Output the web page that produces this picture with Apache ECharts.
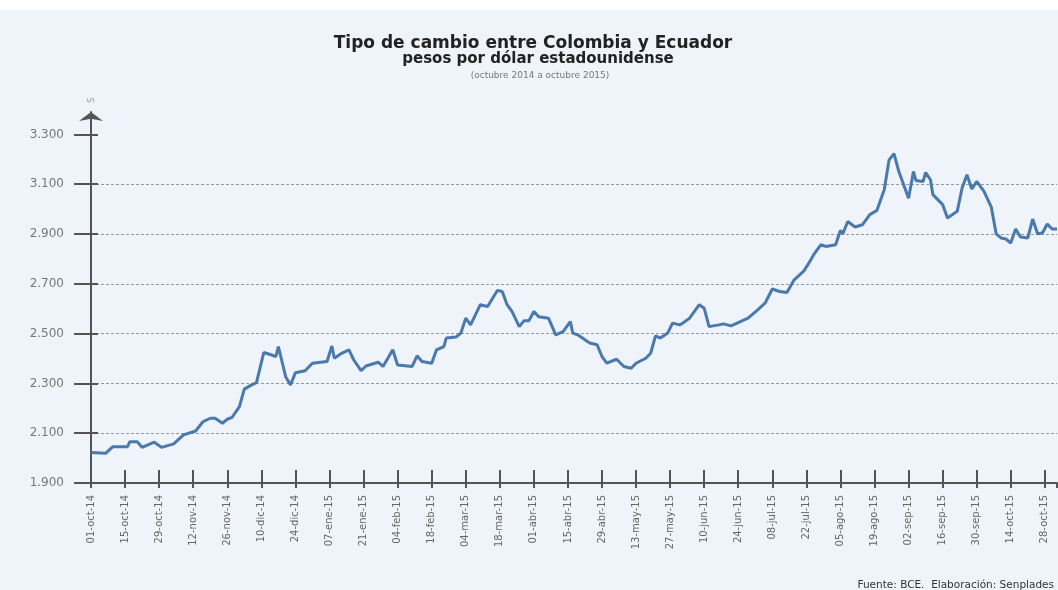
<!DOCTYPE html>
<html>
<head>
<meta charset="utf-8">
<script src="https://cdn.jsdelivr.net/npm/echarts@6/dist/echarts.min.js"></script>
<style>
  html, body { margin: 0; padding: 0; background: #fff; }
  #chart { width: 1058px; height: 590px; }
</style>
</head>
<body>
<div id="chart"></div>
<script>
// dias desde el 01-oct-14 y tipo de cambio (pesos por dólar)
const dias = [
  0, 6, 9, 15, 16, 19, 21, 26, 29, 34, 38, 43, 46, 49, 51, 54, 56, 58, 61, 63,
  66, 68, 71, 74, 76, 77, 78, 80, 82, 84, 88, 91, 97, 99, 100, 103, 106, 108, 111, 113,
  118, 120, 122, 124, 126, 132, 134, 136, 140, 142, 145, 146, 150, 152, 154, 156, 160, 163, 167, 169,
  171, 173, 176, 178, 180, 182, 184, 188, 191, 194, 197, 198, 200, 202, 204, 205, 208, 210, 212, 216,
  219, 222, 224, 228, 230, 232, 234, 237, 239, 242, 244, 246, 250, 252, 254, 258, 260, 263, 266, 270,
  274, 277, 280, 283, 286, 289, 293, 295, 297, 300, 302, 306, 308, 309, 311, 314, 317, 320, 323, 326,
  328, 330, 332, 336, 338, 339, 342, 343, 345, 346, 350, 352, 356, 358, 360, 362, 364, 367, 370, 372,
  374, 376, 378, 380, 382, 385, 387, 389, 391, 393, 395, 397
]
const tasa = [
  2022, 2019, 2046, 2046, 2066, 2066, 2043, 2064, 2043, 2057, 2093, 2109, 2146, 2160, 2160, 2140, 2156, 2164, 2207, 2277,
  2294, 2303, 2424, 2415, 2408, 2448, 2408, 2327, 2294, 2343, 2351, 2381, 2388, 2450, 2401, 2421, 2435, 2394, 2351, 2370,
  2385, 2368, 2401, 2435, 2374, 2368, 2411, 2388, 2381, 2435, 2448, 2482, 2486, 2502, 2562, 2535, 2616, 2609, 2673, 2669,
  2616, 2589, 2528, 2552, 2552, 2589, 2568, 2562, 2495, 2508, 2548, 2502, 2495, 2482, 2468, 2462, 2455, 2408, 2381, 2397,
  2368, 2361, 2381, 2401, 2421, 2491, 2482, 2502, 2542, 2535, 2548, 2562, 2616, 2602, 2528, 2535, 2539, 2531, 2544, 2562,
  2595, 2622, 2679, 2669, 2665, 2716, 2752, 2783, 2817, 2857, 2850, 2857, 2914, 2901, 2950, 2928, 2937, 2977, 2995, 3078,
  3198, 3223, 3151, 3044, 3151, 3115, 3111, 3147, 3118, 3058, 3018, 2964, 2991, 3085, 3138, 3081, 3111, 3071, 3008, 2901,
  2884, 2880, 2864, 2920, 2888, 2884, 2960, 2901, 2904, 2940, 2920, 2920
]
const tickLabels = [
  '01-oct-14', '15-oct-14', '29-oct-14', '12-nov-14', '26-nov-14', '10-dic-14', '24-dic-14',
  '07-ene-15', '21-ene-15', '04-feb-15', '18-feb-15', '04-mar-15', '18-mar-15', '01-abr-15',
  '15-abr-15', '29-abr-15', '13-may-15', '27-may-15', '10-jun-15', '24-jun-15', '08-jul-15',
  '22-jul-15', '05-ago-15', '19-ago-15', '02-sep-15', '16-sep-15', '30-sep-15', '14-oct-15', '28-oct-15'
]
const yTicks = [1900, 2100, 2300, 2500, 2700, 2900, 3100, 3300]

const font = 'DejaVu Sans'
const chart = echarts.init(document.getElementById('chart'))

const xBase = { type: 'value', min: 0, max: 397, interval: 14, position: 'bottom' }
const yBase = { type: 'value', min: 1900, max: 3390, interval: 200, position: 'left' }

chart.setOption({
  animation: false,
  backgroundColor: '#eff3fa',
  textStyle: { fontFamily: font },
  title: [
    {
      text: 'Tipo de cambio entre Colombia y Ecuador',
      left: 528, top: 30, textAlign: 'center',
      textStyle: { fontSize: 17, fontWeight: 'bold', color: '#222', fontFamily: font }
    },
    {
      text: 'pesos por dólar estadounidense',
      left: 533, top: 47, textAlign: 'center',
      textStyle: { fontSize: 15, fontWeight: 'bold', color: '#222', fontFamily: font }
    },
    {
      text: '(octubre 2014 a octubre 2015)',
      left: 535, top: 66, textAlign: 'center',
      textStyle: { fontSize: 9, fontWeight: 'normal', color: '#777', fontFamily: font }
    }
  ],
  graphic: [
    { type: 'rect', left: 0, top: 0, shape: { width: 1058, height: 10 }, style: { fill: '#fff' }, silent: true },
    {
      type: 'text', right: 4, top: 580,
      style: { text: 'Fuente: BCE.  Elaboración: Senplades', fontSize: 10.5, fill: '#333', fontFamily: font }
    }
  ],
  grid: { left: 91, right: 1, top: 112, bottom: 107 },
  xAxis: [
    Object.assign({}, xBase, {
      axisLine: { lineStyle: { color: '#555', width: 2 } },
      axisTick: { inside: true, length: 13, lineStyle: { color: '#555', width: 2 } },
      axisLabel: {
        rotate: 90, margin: 12, fontSize: 10, color: '#666', showMaxLabel: false,
        formatter: v => tickLabels[v / 14] || ''
      },
      splitLine: { show: false }
    }),
    Object.assign({}, xBase, {
      axisLine: { show: false },
      axisTick: { inside: false, length: 5, lineStyle: { color: '#555', width: 2 } },
      axisLabel: { show: false },
      splitLine: { show: false }
    })
  ],
  yAxis: [
    Object.assign({}, yBase, {
      name: '$',
      nameLocation: 'end',
      nameRotate: 90,
      nameGap: 12,
      nameTextStyle: { color: '#aaa', fontSize: 10, align: 'center', verticalAlign: 'middle' },
      axisLine: {
        show: true,
        symbol: ['none', 'arrow'],
        symbolSize: [18, 9],
        lineStyle: { color: '#555', width: 2 }
      },
      axisTick: { show: true, inside: false, length: 17, customValues: yTicks, lineStyle: { color: '#555', width: 2 } },
      axisLabel: {
        margin: 27, fontSize: 12, color: '#777', showMaxLabel: false,
        formatter: v => String(v).replace(/\B(?=(\d{3})+$)/, '.')
      },
      splitLine: {
        show: true, showMinLine: false, showMaxLine: false,
        lineStyle: { color: '#999', width: 1, type: [3, 2] }
      }
    }),
    Object.assign({}, yBase, {
      axisLine: { show: false },
      axisTick: { show: true, inside: true, length: 7, customValues: yTicks, lineStyle: { color: '#555', width: 2 } },
      axisLabel: { show: false },
      splitLine: { show: false }
    })
  ],
  series: [
    {
      type: 'line',
      xAxisIndex: 0,
      yAxisIndex: 0,
      showSymbol: false,
      z: 5,
      lineStyle: { color: '#4a79ad', width: 3 },
      data: dias.map((d, i) => [d, tasa[i]])
    }
  ]
})
</script>
</body>
</html>
